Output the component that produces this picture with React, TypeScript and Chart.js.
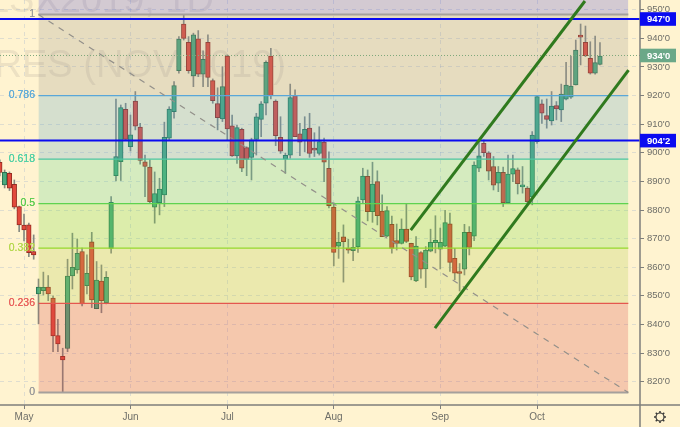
import React, { useEffect, useRef } from "react";
import { Chart, registerables } from "chart.js";

Chart.register(...registerables);

// Daily bars, first bar sits five sessions before 1 May
const firstBar = -5;
const opens = [
  896.7,888.8,892.8,889.0,881.2,874.7,874.8,865.5,850.7,851.8,853.1,849.2,836.1,828.9,831.6,857.0,859.1,865.5,853.6,868.9,845.5,855.2,847.6,866.6,
  892.0,896.9,915.2,902.1,918.1,909.0,896.8,895.0,881.0,882.6,885.3,905.1,914.4,928.7,945.0,938.6,926.9,939.8,927.5,938.6,925.2,917.2,911.8,933.8,
  909.4,898.9,908.2,901.8,898.4,904.7,911.7,917.3,933.8,918.1,905.4,897.8,899.2,920.0,906.6,904.2,908.6,901.2,899.8,903.7,894.6,881.0,
  867.4,870.6,866.4,865.8,867.1,883.5,891.8,879.4,889.9,879.6,870.9,875.0,869.3,868.3,873.3,868.4,855.2,865.1,859.4,865.6,868.6,866.3,867.4,
  875.2,863.1,858.0,859.3,872.2,870.9,894.6,903.3,900.0,895.2,889.4,893.2,882.6,892.5,894.0,888.1,887.7,884.6,903.9,
  917.1,913.0,911.1,916.5,915.0,918.7,919.4,923.7,940.6,938.6,933.0,927.8,930.9,
];
const closes = [
  893.1,893.2,887.6,881.0,874.8,873.0,865.1,864.3,853.1,853.0,850.7,836.0,833.2,827.6,856.9,860.0,864.9,847.2,857.9,848.6,855.5,848.3,856.5,882.7,
  898.7,915.8,904.7,906.3,909.3,897.3,895.2,882.9,885.7,887.3,905.4,915.3,923.5,939.7,940.0,928.7,941.2,927.5,932.7,926.3,918.2,912.3,923.1,908.3,
  898.9,908.8,894.6,897.7,904.5,912.6,917.1,931.6,920.0,906.0,900.6,899.1,919.3,905.6,903.7,908.2,899.8,900.9,903.9,896.7,881.5,865.2,
  868.7,868.9,866.0,867.0,883.1,891.9,879.4,889.1,878.0,870.7,879.8,866.6,868.3,873.3,869.0,856.6,867.4,859.3,866.0,868.7,869.4,868.7,875.6,
  861.7,857.9,857.8,872.2,866.9,895.7,898.9,900.0,893.6,888.7,893.2,882.6,892.6,894.5,889.2,888.7,882.9,906.2,919.6,
  913.8,911.7,916.3,915.3,920.5,923.7,923.3,935.9,940.4,933.9,927.8,931.5,933.8,
];
const highs = [
  897.5,894.0,893.3,890.5,881.4,878.6,875.4,871.3,855.9,858.3,857.1,850.0,841.8,831.7,862.8,871.9,869.9,866.7,864.3,872.2,862.0,860.8,858.5,884.7,
  918.8,916.7,917.3,913.2,921.4,910.3,899.2,897.5,893.3,891.1,910.7,916.1,924.9,940.6,948.2,940.6,941.8,942.7,935.6,941.2,925.8,922.7,930.1,934.2,
  913.2,909.7,908.6,902.1,905.1,913.8,917.9,932.1,936.5,918.5,912.6,899.9,924.0,922.0,910.3,912.6,913.8,907.0,909.1,905.1,900.3,882.5,
  872.2,874.8,869.8,869.9,884.5,894.6,894.0,896.7,893.7,885.3,881.2,877.9,875.1,876.9,882.1,868.4,870.7,865.5,867.2,873.3,878.0,873.7,879.9,
  878.9,866.6,861.3,875.0,874.2,896.8,904.5,904.5,900.4,898.7,895.2,895.0,899.2,899.2,894.7,895.2,888.2,907.4,919.9,
  918.5,918.8,921.4,917.9,924.0,931.6,933.8,939.4,945.0,944.3,938.8,940.8,938.5,
];
const lows = [
  891.9,887.7,886.8,880.4,872.4,869.2,863.7,862.8,840.2,850.3,848.3,830.5,830.5,816.2,830.5,852.4,857.9,846.5,850.7,845.9,845.5,844.1,847.2,864.9,
  890.2,890.3,904.5,900.6,908.0,896.0,884.7,882.4,875.4,878.3,881.2,904.5,912.1,927.8,939.4,927.8,923.1,926.6,923.1,923.1,917.3,908.0,910.9,904.5,
  898.7,896.3,893.4,892.0,890.5,899.2,905.6,913.2,918.8,902.5,899.8,892.8,898.1,905.6,899.0,900.4,898.4,898.7,899.2,889.9,880.7,860.5,
  863.1,854.8,864.9,862.3,865.2,882.4,876.2,875.7,874.8,870.7,870.7,864.9,866.0,868.1,868.6,855.6,855.0,856.2,852.9,865.4,865.0,859.4,867.2,
  858.5,855.6,851.7,857.3,864.3,869.3,893.4,898.7,890.5,887.0,886.4,881.2,882.3,889.9,885.6,885.9,882.4,881.8,903.3,
  910.3,908.6,909.7,911.5,910.9,918.5,919.0,923.7,930.7,933.6,927.5,927.5,930.7,
];

const monthBars = [0, 22, 42, 64, 86, 106];
const monthNames = ["May", "Jun", "Jul", "Aug", "Sep", "Oct"];
const priceTicks = [820, 830, 840, 850, 860, 870, 880, 890, 900, 910, 920, 930, 940, 950];

const fibNames = ["1", "0.786", "0.618", "0.5", "0.382", "0.236", "0"];
const fibPrices = [948.3, 920.0, 897.8, 882.25, 866.7, 847.4, 816.2];
const fibLineColors = ["#a5a09c", "#5aa7d8", "#4cc6a0", "#5ed34f", "#95d92c", "#e4574f", "#a5a09c"];
const fibLabelColors = ["#9a9a9a", "#5fabd8", "#4fd0a5", "#5ccc50", "#b5d84e", "#e8605c", "#9a9a9a"];
const fibBandColors = [
  "rgba(155,151,140,0.25)",
  "rgba(87,163,200,0.25)",
  "rgba(87,211,140,0.25)",
  "rgba(115,219,60,0.25)",
  "rgba(175,203,72,0.25)",
  "rgba(215,71,68,0.25)",
];
const fibStartBar = 2.98;
const fibEndBar = 124.86;

const priceMin = 811.86;
const priceMax = 953.39;
const barMin = -4.959;
const barMax = 127.27;

const upperChannelBars = [79.9, 115.9];
const upperChannelPrices = [873.0, 953.05];
const lowerChannelBars = [84.9, 124.9];
const lowerChannelPrices = [838.7, 928.9];

const blueLevels = [946.75, 904.25];
const blueLabels = ["947'0", "904'2"];
const lastPrice = 934.0;
const lastLabel = "934'0";

const CREAM = "#fff3d0";
const FONT = '"Liberation Sans", Arial, sans-serif';

const bars = opens.map((_, k) => firstBar + k);
const isUp = opens.map((o, k) => closes[k] >= o);

const chromePlugin = {
  id: "chrome",
  beforeDraw(chart: any) {
    const { ctx, width, height, chartArea } = chart;
    ctx.save();
    ctx.fillStyle = CREAM;
    ctx.fillRect(0, 0, width, height);
    ctx.beginPath();
    ctx.rect(0, 0, chartArea.right, chartArea.bottom);
    ctx.clip();
    ctx.fillStyle = "rgba(90,80,90,0.11)";
    ctx.textAlign = "right";
    ctx.textBaseline = "alphabetic";
    ctx.font = `38px ${FONT}`;
    ctx.fillText("SOYBEAN FUTURES (NOV 2019)", 286, 77);
    ctx.fillText("ZSX2019, 1D", 214, 12);
    ctx.restore();
  },
  afterDraw(chart: any) {
    const { ctx, chartArea, width, height, scales } = chart;
    const y = scales.y;
    ctx.save();
    // fib level names
    ctx.font = `10.5px ${FONT}`;
    ctx.textAlign = "right";
    ctx.textBaseline = "middle";
    fibNames.forEach((n, k) => {
      ctx.fillStyle = fibLabelColors[k];
      ctx.fillText(n, 35, y.getPixelForValue(fibPrices[k]));
      ctx.fillText(n, 35, y.getPixelForValue(fibPrices[k]));
    });
    // axes
    ctx.strokeStyle = "#7f7f7b";
    ctx.lineWidth = 1.5;
    ctx.beginPath();
    ctx.moveTo(0, chartArea.bottom);
    ctx.lineTo(width, chartArea.bottom);
    ctx.moveTo(chartArea.right, 0);
    ctx.lineTo(chartArea.right, height);
    ctx.stroke();
    // price tags
    const tag = (p: number, text: string, bg: string) => {
      const py = y.getPixelForValue(p);
      ctx.fillStyle = bg;
      ctx.fillRect(chartArea.right, py - 6.8, 36, 13.6);
      ctx.fillStyle = "#ffffff";
      ctx.font = `bold 9.5px ${FONT}`;
      ctx.textAlign = "left";
      ctx.fillText(text, chartArea.right + 7, py + 0.5);
    };
    tag(lastPrice, lastLabel, "#6ba888");
    blueLevels.forEach((p, k) => tag(p, blueLabels[k], "#0a0af0"));
    // settings gear
    const gx = 660;
    const gy = 417;
    ctx.strokeStyle = "#3a3a38";
    ctx.lineWidth = 1.2;
    ctx.beginPath();
    ctx.arc(gx, gy, 4, 0, Math.PI * 2);
    ctx.stroke();
    ctx.lineWidth = 1.5;
    for (let a = 0; a < 8; a++) {
      const t = (a * Math.PI) / 4;
      ctx.beginPath();
      ctx.moveTo(gx + Math.cos(t) * 4, gy + Math.sin(t) * 4);
      ctx.lineTo(gx + Math.cos(t) * 6, gy + Math.sin(t) * 6);
      ctx.stroke();
    }
    ctx.restore();
  },
};

export default function App() {
  const ref = useRef<HTMLCanvasElement>(null);
  useEffect(() => {
    const lineBase = { type: "line", pointRadius: 0, tension: 0, fill: false };
    const bandSets = fibBandColors.map((c, k) => ({
      ...lineBase,
      order: 20,
      data: [
        { x: fibStartBar, y: fibPrices[k + 1] },
        { x: fibEndBar, y: fibPrices[k + 1] },
      ],
      borderColor: fibLineColors[k + 1],
      borderWidth: k === 5 ? 2 : 1.3,
      backgroundColor: c,
      fill: { target: { value: fibPrices[k] } },
    }));
    const datasets: any[] = [
      {
        type: "bar",
        order: 31,
        grouped: false,
        barThickness: 1,
        data: bars.map((b, k) => ({ x: b, y: [lows[k], highs[k]] })),
        backgroundColor: "#868980",
        borderWidth: 0,
      },
      {
        type: "bar",
        order: 30,
        grouped: false,
        barThickness: 4.6,
        minBarLength: 2,
        data: bars.map((b, k) => ({ x: b, y: [Math.min(opens[k], closes[k]), Math.max(opens[k], closes[k])] })),
        backgroundColor: isUp.map((u) => (u ? "#4aa97c" : "#e2493c")),
        borderColor: isUp.map((u) => (u ? "#2a7453" : "#962b21")),
        borderWidth: 1,
        borderSkipped: false,
      },
      ...bandSets,
      {
        ...lineBase,
        order: 19,
        data: [
          { x: fibStartBar, y: fibPrices[0] },
          { x: fibEndBar, y: fibPrices[0] },
        ],
        borderColor: fibLineColors[0],
        borderWidth: 2,
        backgroundColor: "rgba(79,79,216,0.25)",
        fill: { target: { value: priceMax } },
      },
      {
        ...lineBase,
        order: 10,
        data: [
          { x: fibStartBar, y: fibPrices[0] },
          { x: fibEndBar, y: fibPrices[6] },
        ],
        borderColor: "#93908a",
        borderWidth: 1.2,
        borderDash: [6, 6],
      },
      {
        ...lineBase,
        order: 9,
        data: [
          { x: barMin, y: lastPrice },
          { x: barMax, y: lastPrice },
        ],
        borderColor: "#7ea77c",
        borderWidth: 1,
        borderDash: [1, 2],
      },
      ...blueLevels.map((p) => ({
        ...lineBase,
        order: 5,
        data: [
          { x: barMin, y: p },
          { x: barMax, y: p },
        ],
        borderColor: "#0a0af0",
        borderWidth: 2,
      })),
      {
        ...lineBase,
        order: 4,
        data: upperChannelBars.map((b, k) => ({ x: b, y: upperChannelPrices[k] })),
        borderColor: "#2f7a1e",
        borderWidth: 3,
      },
      {
        ...lineBase,
        order: 4,
        data: lowerChannelBars.map((b, k) => ({ x: b, y: lowerChannelPrices[k] })),
        borderColor: "#2f7a1e",
        borderWidth: 3,
      },
    ];
    const gridColor = "rgba(140,165,205,0.28)";
    const chart = new Chart(ref.current as HTMLCanvasElement, {
      type: "bar",
      data: { datasets },
      plugins: [chromePlugin],
      options: {
        animation: false,
        responsive: false,
        events: [],
        layout: { padding: 0, autoPadding: false },
        plugins: { legend: { display: false }, tooltip: { enabled: false } },
        scales: {
          x: {
            type: "linear",
            min: barMin,
            max: barMax,
            offset: false,
            afterFit: (s: any) => {
              s.height = 22;
              s.paddingLeft = 0;
              s.paddingRight = 0;
              s.paddingTop = 0;
              s.paddingBottom = 0;
            },
            afterBuildTicks: (s: any) => {
              s.ticks = monthBars.map((v) => ({ value: v }));
            },
            grid: {
              offset: false,
              color: gridColor,
              tickColor: "#7f7f7b",
              tickLength: 4,
              tickBorderDash: [],
            },
            border: { display: false, dash: [4, 4] },
            ticks: {
              autoSkip: false,
              maxRotation: 0,
              padding: 2,
              color: "#6e6e68",
              font: { family: FONT, size: 10 },
              callback: (v: any) => monthNames[monthBars.indexOf(v)],
            },
          },
          y: {
            type: "linear",
            position: "right",
            min: priceMin,
            max: priceMax,
            afterFit: (s: any) => {
              s.width = 40;
              s.paddingLeft = 0;
              s.paddingRight = 0;
              s.paddingTop = 0;
              s.paddingBottom = 0;
            },
            afterBuildTicks: (s: any) => {
              s.ticks = priceTicks.map((v) => ({ value: v }));
            },
            grid: {
              color: gridColor,
              tickColor: "#7f7f7b",
              tickLength: 4,
              tickBorderDash: [],
            },
            border: { display: false, dash: [4, 4] },
            ticks: {
              padding: 3,
              color: "#6e6e68",
              font: { family: FONT, size: 9.5 },
              callback: (v: any) => `${v}'0`,
            },
          },
        },
      },
    } as any);
    return () => chart.destroy();
  }, []);
  return (
    <>
      <style>{`html,body{margin:0;padding:0;background:${CREAM}}`}</style>
      <canvas ref={ref} width={680} height={427} style={{ display: "block" }} />
    </>
  );
}
